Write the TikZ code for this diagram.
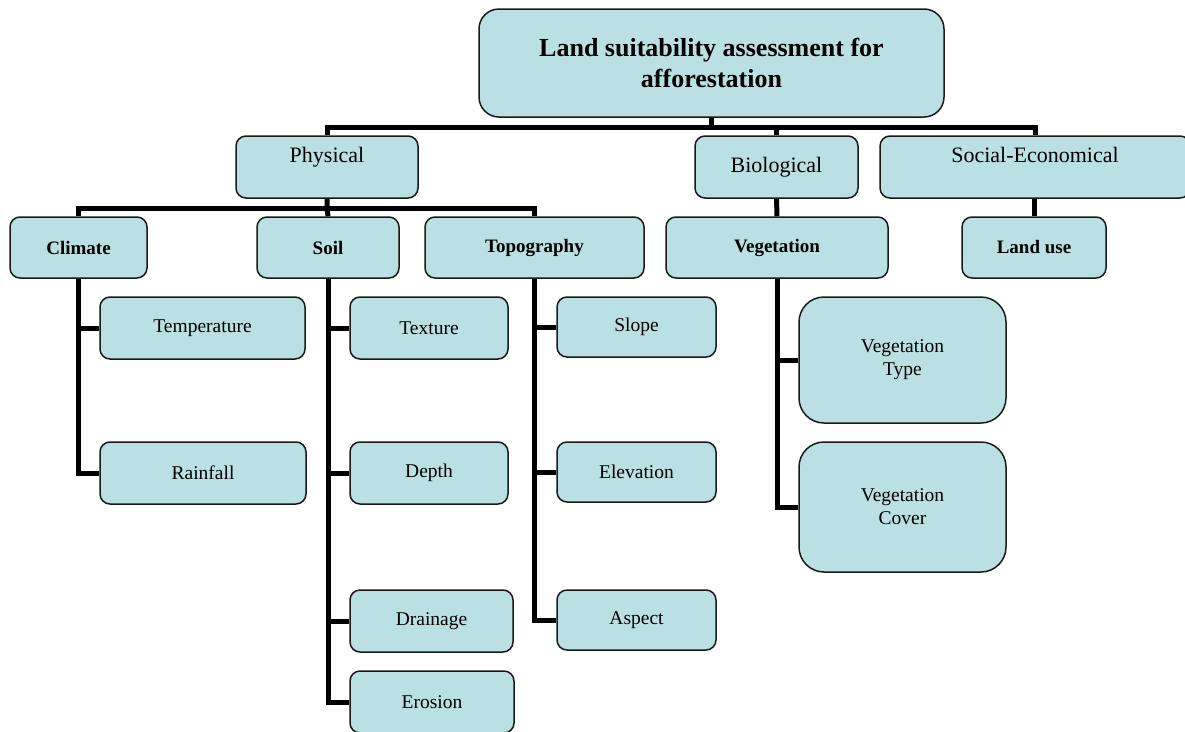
\documentclass[tikz,border=0pt]{standalone}
\usepackage{fontspec}
\setmainfont{Liberation Serif}
\usetikzlibrary{backgrounds}
\definecolor{boxfill}{RGB}{187,224,227}
\definecolor{edge}{RGB}{25,25,25}
\tikzset{
  box/.style={draw=edge, line width=1.5pt, fill=boxfill, rounded corners=10pt,
    inner sep=0pt, align=center, text=black},
  titlebox/.style={box, rounded corners=20pt, font=\fontsize{26}{31}\selectfont\bfseries},
  lvlone/.style={box, font=\fontsize{22}{26}\selectfont},
  lvltwo/.style={box, font=\fontsize{19}{23}\selectfont\bfseries},
  leaf/.style={box, font=\fontsize{19.5}{23}\selectfont},
  bigleaf/.style={leaf, rounded corners=25pt},
  conn/.style={line width=5pt, black, line join=miter},
}
\newcommand{\toptext}[1]{\raisebox{5pt}[0pt][0pt]{#1}}
\begin{document}
\begin{tikzpicture}[x=1pt,y=-1pt]
\useasboundingbox (0,0) rectangle (1185,731);
% bars
\coordinate (barA) at (0,127);
\coordinate (barB) at (0,208);
% level 0
\node[titlebox, minimum width=465, minimum height=108] (top) at (711.5,63) {Land suitability assessment for\\afforestation};
% level 1
\node[lvlone, minimum width=182, minimum height=62] (phys) at (327,167) {\toptext{Physical}};
\node[lvlone, minimum width=163, minimum height=62] (bio) at (776.5,167) {Biological};
\node[lvlone, minimum width=310, minimum height=62] (soc) at (1035,167) {\toptext{Social-Economical}};
% level 2
\node[lvltwo, minimum width=137, minimum height=61] (clim) at (78.5,247.5) {Climate};
\node[lvltwo, minimum width=142, minimum height=61] (soil) at (328,247.5) {Soil};
\node[lvltwo, minimum width=219, minimum height=61] (topo) at (534.5,247.5) {Topography};
\node[lvltwo, minimum width=222, minimum height=61] (veg) at (777,247.5) {Vegetation};
\node[lvltwo, minimum width=144, minimum height=61] (landuse) at (1034,247.5) {Land use};
% leaves
\node[leaf, minimum width=205, minimum height=62] (temp) at (202.5,328) {Temperature};
\node[leaf, minimum width=206, minimum height=62] (rain) at (203,473) {Rainfall};
\node[leaf, minimum width=158, minimum height=62] (texture) at (429,328) {Texture};
\node[leaf, minimum width=158, minimum height=62] (depth) at (429,473) {Depth};
\node[leaf, minimum width=163, minimum height=62] (drain) at (431.5,621) {Drainage};
\node[leaf, minimum width=164, minimum height=62] (erosion) at (432,702) {Erosion};
\node[leaf, minimum width=159, minimum height=60] (slope) at (636.5,327) {Slope};
\node[leaf, minimum width=159, minimum height=60] (elev) at (636.5,472) {Elevation};
\node[leaf, minimum width=159, minimum height=60] (aspect) at (636.5,620) {Aspect};
\node[bigleaf, minimum width=207, minimum height=126] (vegtype) at (902.5,360) {Vegetation\\Type};
\node[bigleaf, minimum width=207, minimum height=130] (vegcover) at (902.5,507) {Vegetation\\Cover};
\begin{scope}[on background layer]
% connectors level 0-1
\draw[conn] (top.south) -- (top.south |- barA);
\draw[conn] (phys.north) -- (phys.north |- barA) -- (soc.north |- barA) -- (soc.north);
\draw[conn] (bio.north) -- (bio.north |- barA);
% level 1-2
\draw[conn] (clim.north) -- (clim.north |- barB) -- (topo.north |- barB) -- (topo.north);
\draw[conn] (phys.south) -- (phys.south |- barB) -- (soil.north);
\draw[conn] (bio.south) -- (veg.north);
\draw[conn] (soc.south) -- (soc.south -| landuse.north) -- (landuse.north);
% leaves
\draw[conn] (clim.south) |- (rain.west);
\draw[conn] (clim.south |- temp.west) -- (temp.west);
\draw[conn] (soil.south) |- (erosion.west);
\draw[conn] (soil.south |- texture.west) -- (texture.west);
\draw[conn] (soil.south |- depth.west) -- (depth.west);
\draw[conn] (soil.south |- drain.west) -- (drain.west);
\draw[conn] (topo.south) |- (aspect.west);
\draw[conn] (topo.south |- slope.west) -- (slope.west);
\draw[conn] (topo.south |- elev.west) -- (elev.west);
\draw[conn] (veg.south) |- (vegcover.west);
\draw[conn] (veg.south |- vegtype.west) -- (vegtype.west);
\end{scope}
\end{tikzpicture}
\end{document}
